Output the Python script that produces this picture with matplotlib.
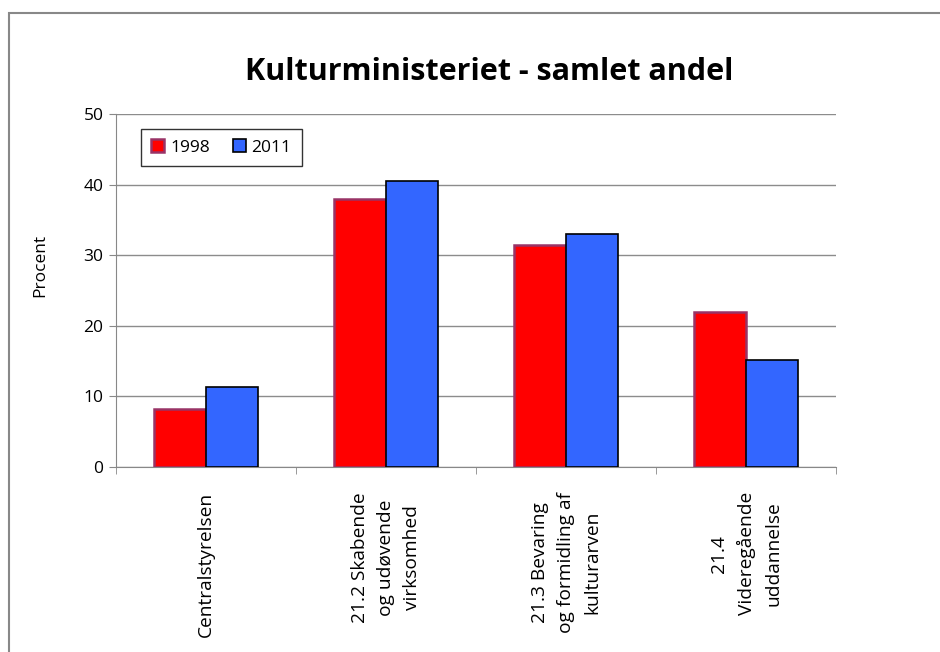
import numpy as np
import matplotlib.pyplot as plt
from matplotlib.patches import Rectangle

categories = ['Centralstyrelsen',
              '21.2 Skabende\nog udøvende\nvirksomhed',
              '21.3 Bevaring\nog formidling af\nkulturarven',
              '21.4\nVideregående\nuddannelse']
values_1998 = [8.2, 37.9, 31.5, 21.9]
values_2011 = [11.3, 40.5, 33.0, 15.1]

plt.rcParams['font.family'] = ['Open Sans', 'DejaVu Sans']

fig = plt.figure(figsize=(9.4, 6.52), dpi=100)
ax = fig.add_axes([116/940, 1 - 467/652, 720/940, 353/652])

# outer chart frame (cut off at right and bottom like the original)
fig.patches.append(Rectangle((9/940, -0.1), 1.2, 1 - 13/652 + 0.1,
                             transform=fig.transFigure, fill=False,
                             edgecolor='#888888', linewidth=1.5))

x = np.arange(len(categories))
w = 0.29
ax.bar(x - w/2, values_1998, w, color='#FF0000', edgecolor='#993366',
       linewidth=1.8, label='1998', zorder=3)
ax.bar(x + w/2, values_2011, w, color='#3366FF', edgecolor='black',
       linewidth=1.2, label='2011', zorder=3)

ax.set_xlim(-0.5, len(categories) - 0.5)
ax.set_ylim(0, 50)
ax.set_yticks(range(0, 51, 10))
ax.yaxis.grid(True, color='#8c8c8c', linewidth=1)
ax.set_axisbelow(True)

ax.set_xticks(x)
ax.set_xticklabels(categories)
ax.set_xticks(np.arange(-0.5, len(categories), 1), minor=True)
ax.tick_params(axis='x', which='major', length=0, pad=18)
ax.tick_params(axis='x', which='minor', length=5, color='#888888')
ax.tick_params(axis='y', length=5, color='#888888', labelsize=12.5, pad=4)
for lab in ax.get_xticklabels():
    lab.set_rotation(90)
    lab.set_fontsize(13.8)
    lab.set_multialignment('center')
    lab.set_linespacing(1.6)

for s in ['top', 'right']:
    ax.spines[s].set_visible(False)
for s in ['left', 'bottom']:
    ax.spines[s].set_color('#888888')

ax.set_ylabel('Procent', fontsize=12.5)
ax.yaxis.set_label_coords(-0.094, 0.572)

fig.text(489/940, 1 - 72/652, 'Kulturministeriet - samlet andel',
         ha='center', va='center', fontsize=22, fontweight='bold')

leg = ax.legend(loc='upper left', bbox_to_anchor=(16/720, 1 - 6/353),
                ncol=2, frameon=True, fancybox=False, fontsize=12.5,
                handlelength=0.75, handleheight=0.75, handletextpad=0.35,
                columnspacing=1.3, borderpad=0.6)
leg.get_frame().set_edgecolor('black')
leg.get_frame().set_linewidth(1)

fig.savefig('out.png', dpi=100)
